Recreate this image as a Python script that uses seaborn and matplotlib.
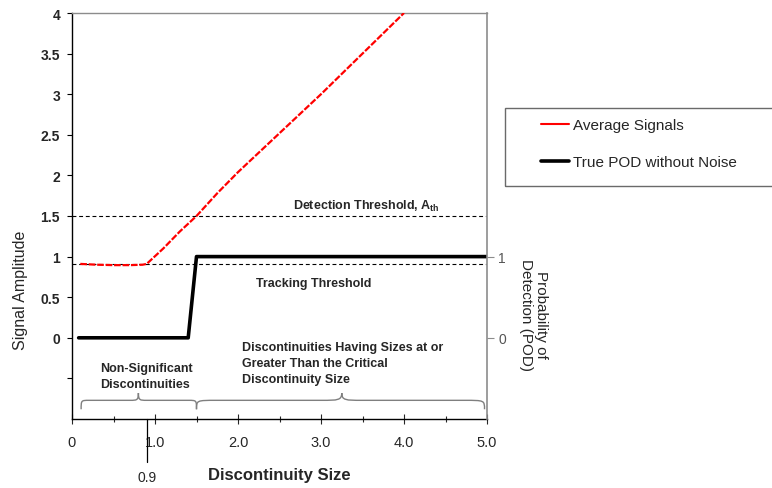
import numpy as np
import pandas as pd
import matplotlib
matplotlib.use("Agg")
import matplotlib.pyplot as plt
import seaborn as sns
from matplotlib.lines import Line2D
from matplotlib.patches import Rectangle, PathPatch
from matplotlib.path import Path
import matplotlib.transforms as mtransforms

# ========= Data =========
avg_x = [0.1, 0.3, 0.5, 0.7, 0.85, 0.9, 1.1, 1.3, 1.5, 1.75, 2.0, 2.25, 2.5, 2.75, 3.0, 3.25, 3.5, 3.75, 4.0]
avg_y = [0.91, 0.90, 0.895, 0.895, 0.90, 0.91, 1.10, 1.31, 1.50, 1.78, 2.04, 2.28, 2.52, 2.76, 3.00, 3.25, 3.50, 3.75, 4.00]

pod_x = [0.08, 1.4, 1.5, 5.0]
pod_y = [0, 0, 1, 1]

detection_threshold = 1.5
tracking_threshold = 0.91
critical_size = 0.9

y_ticks = [-0.5, 0, 0.5, 1, 1.5, 2, 2.5, 3, 3.5, 4]
y_ticklabels = ["", "0", "0.5", "1", "1.5", "2", "2.5", "3", "3.5", "4"]
x_ticks = [0, 1, 2, 3, 4, 5]
x_ticklabels = ["0", "1.0", "2.0", "3.0", "4.0", "5.0"]
pod_ticks = [0, 1]
pod_ticklabels = ["0", "1"]

# brace spans: (start, end, tip)
braces = [(0.11, 1.5, 0.8), (1.5, 4.97, 3.25)]

avg_df = pd.DataFrame({"size": avg_x, "amp": avg_y})
pod_df = pd.DataFrame({"size": pod_x, "pod": pod_y})

# ========= Style =========
sns.set_style("white")
plt.rcParams["font.family"] = ["Liberation Sans", "DejaVu Sans"]
plt.rcParams["mathtext.fontset"] = "custom"
plt.rcParams["mathtext.rm"] = "Liberation Sans"
plt.rcParams["mathtext.bf"] = "Liberation Sans:bold"

W, H = 772, 489
fig = plt.figure(figsize=(W / 100, H / 100), dpi=100)
ax = fig.add_axes([72 / W, 69 / H, 415 / W, 406 / H])

ax.set_xlim(0, 5)
ax.set_ylim(-1.0, 4.0)

# threshold lines
ax.axhline(detection_threshold, xmax=0.997, color="black", lw=0.8, ls=(0, (3.5, 2.5)), zorder=1)
ax.axhline(tracking_threshold, xmax=0.997, color="black", lw=0.8, ls=(0, (3.5, 2.5)), zorder=1)

# average signals
sns.lineplot(data=avg_df, x="size", y="amp", ax=ax, color="#ff0000", lw=1.6,
             linestyle=(0, (3, 0.8)), legend=False, zorder=3)

# ========= Axes styling =========
ax.set_yticks(y_ticks)
ax.set_yticklabels(y_ticklabels, fontsize=10, fontweight="bold")
ax.set_xticks(x_ticks)
ax.set_xticklabels(x_ticklabels, fontsize=10.5)
ax.set_xticks(np.arange(0.5, 5, 1.0), minor=True)
ax.tick_params(axis="y", direction="out", length=3.6, width=0.8, pad=5, color="black", left=True)
ax.tick_params(axis="x", which="major", direction="inout", length=7, width=0.8, pad=8, bottom=True)
ax.tick_params(axis="x", which="minor", direction="inout", length=5, width=0.8, bottom=True)

ax.spines["left"].set_color("black")
ax.spines["bottom"].set_color("black")
ax.spines["top"].set_color("#8c8c8c")
ax.spines["right"].set_visible(False)
for s in ax.spines.values():
    s.set_linewidth(1.0)

ax.set_ylabel("Signal Amplitude", fontsize=11.5)
ax.yaxis.set_label_coords(-0.106, 0.32)
ax.set_xlabel("Discontinuity Size", fontsize=12, fontweight="bold")
ax.xaxis.set_label_coords(0.5, -0.117)

# ========= POD axis =========
ax2 = ax.twinx()
ax2.set_ylim(ax.get_ylim())
sns.lineplot(data=pod_df, x="size", y="pod", ax=ax2, color="black", lw=2.6,
             legend=False, sort=False)
ax2.set_yticks(pod_ticks)
ax2.set_yticklabels(pod_ticklabels, fontsize=10, color="#555555")
ax2.tick_params(axis="y", direction="out", length=5, width=0.8, pad=3, color="#8c8c8c", right=True)
for side in ["left", "top", "bottom"]:
    ax2.spines[side].set_visible(False)
ax2.spines["right"].set_color("#8c8c8c")
ax2.spines["right"].set_linewidth(1.2)
ax2.set_ylabel("Probability of\nDetection (POD)", fontsize=11, rotation=270, linespacing=1.1)
ax2.yaxis.set_label_coords(1.148, 0.259)

# ========= Annotations =========
ax.text(2.66, 1.63, "Detection Threshold, A$_{\\mathbf{th}}$", fontsize=9, fontweight="bold", va="center")
ax.text(2.22, 0.68, "Tracking Threshold", fontsize=9, fontweight="bold", va="center")
ax.text(0.34, -0.47, "Non-Significant\nDiscontinuities", fontsize=9, fontweight="bold",
        va="center", linespacing=1.45)
ax.text(2.05, -0.31, "Discontinuities Having Sizes at or\nGreater Than the Critical\nDiscontinuity Size",
        fontsize=9, fontweight="bold", va="center", linespacing=1.45)

# curly braces above the x axis
y_end, y_mid, y_tip = -0.88, -0.77, -0.68
for x0, x1, xt in braces:
    w = 0.07 * (x1 - x0)
    verts = [(x0, y_end), (x0, y_mid), (x0, y_mid), (x0 + w, y_mid),
             (xt - w, y_mid),
             (xt - 0.2 * w, y_mid), (xt, y_mid), (xt, y_tip),
             (xt, y_mid), (xt + 0.2 * w, y_mid), (xt + w, y_mid),
             (x1 - w, y_mid),
             (x1, y_mid), (x1, y_mid), (x1, y_end)]
    codes = [Path.MOVETO, Path.CURVE4, Path.CURVE4, Path.CURVE4,
             Path.LINETO,
             Path.CURVE4, Path.CURVE4, Path.CURVE4,
             Path.CURVE4, Path.CURVE4, Path.CURVE4,
             Path.LINETO,
             Path.CURVE4, Path.CURVE4, Path.CURVE4]
    ax.add_patch(PathPatch(Path(verts, codes), fill=False, edgecolor="#7f7f7f", lw=1.0))

# critical size marker below the axis
trans = mtransforms.blended_transform_factory(ax.transData, ax.transAxes)
ax.plot([critical_size, critical_size], [0, -0.106], color="black", lw=0.9,
        transform=trans, clip_on=False)
ax.text(critical_size, -0.143, "0.9", fontsize=10, ha="center", va="center", transform=trans)

# ========= Legend =========
fig.patches.append(Rectangle((505 / W, (H - 187) / H), 0.5, 78 / H, transform=fig.transFigure,
                             fill=False, edgecolor="#6a6a6a", lw=1.0))
handles = [Line2D([], [], color="#ff0000", lw=1.5), Line2D([], [], color="black", lw=2.6)]
fig.legend(handles, ["Average Signals", "True POD without Noise"], loc="upper left",
           bbox_to_anchor=(541 / W, (H - 119) / H), frameon=False, fontsize=11,
           borderpad=0, borderaxespad=0, handlelength=1.8, handletextpad=0.3, labelspacing=1.5)

fig.savefig("out.png", dpi=100)
